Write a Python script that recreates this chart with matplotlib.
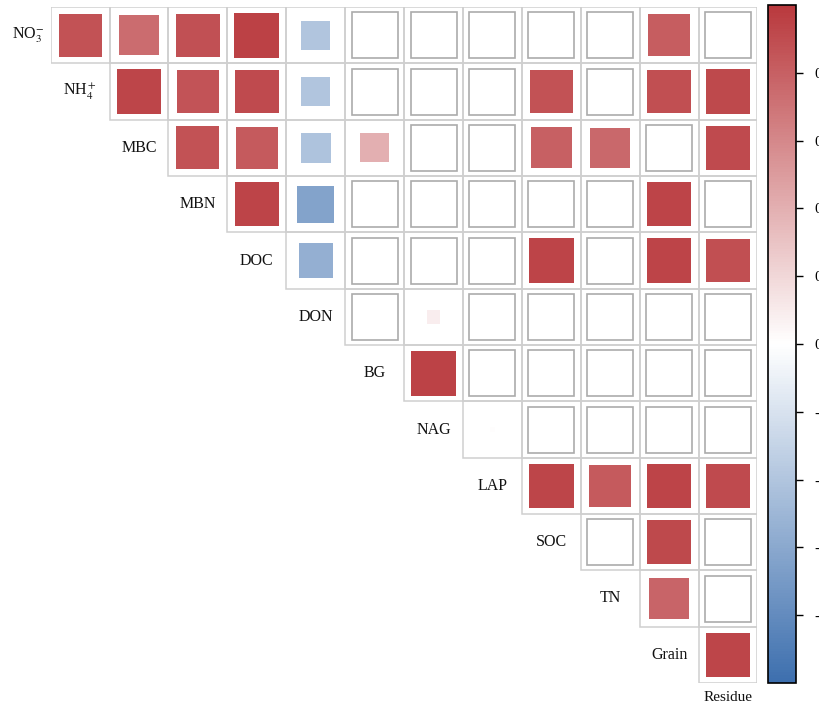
import numpy as np
import matplotlib
matplotlib.use("Agg")
import matplotlib.pyplot as plt
from matplotlib.patches import Rectangle
from matplotlib.colors import LinearSegmentedColormap, Normalize
from matplotlib.cm import ScalarMappable

plt.rcParams["font.family"] = ["Liberation Serif", "DejaVu Serif"]
plt.rcParams["mathtext.fontset"] = "stix"

# variable names along the diagonal
labels = [r"NO$_3^{\!-}$", r"NH$_4^+$", "MBC", "MBN", "DOC", "DON", "BG", "NAG",
          "LAP", "SOC", "TN", "Grain", "Residue"]

# correlation coefficients of the upper triangle, row by row (None = not significant)
r_no3 = [0.87, 0.74, 0.88, 0.96, -0.40, None, None, None, None, None, 0.82, None]
r_nh4 = [0.93, 0.86, 0.91, -0.40, None, None, None, 0.87, None, 0.89, 0.92]
r_mbc = [0.87, 0.83, -0.42, 0.40, None, None, 0.80, 0.76, None, 0.91]
r_mbn = [0.94, -0.64, None, None, None, None, None, 0.94, None]
r_doc = [-0.55, None, None, None, 0.94, None, 0.94, 0.89]
r_don = [None, 0.09, None, None, None, None, None]
r_bg = [0.95, None, None, None, None, None]
r_nag = [0.01, None, None, None, None]
r_lap = [0.93, 0.83, 0.94, 0.91]
r_soc = [None, 0.92, None]
r_tn = [0.78, None]
r_grain = [0.93]
rows = [r_no3, r_nh4, r_mbc, r_mbn, r_doc, r_don, r_bg, r_nag, r_lap, r_soc, r_tn, r_grain]

cbar_ticks = [-0.8, -0.6, -0.4, -0.2, 0, 0.2, 0.4, 0.6, 0.8]

cmap = LinearSegmentedColormap.from_list(
    "corr", ["#3d6fae", "#ffffff", "#b9393d"])
norm = Normalize(-1, 1)

W, H = 820, 704
fig = plt.figure(figsize=(W / 100, H / 100), dpi=100)

# grid box in pixels
gx0, gx1, gy0, gy1 = 50.7, 757.5, 7.0, 683.0
n = len(rows)
cw = (gx1 - gx0) / n
ch = (gy1 - gy0) / n
ax = fig.add_axes([gx0 / W, 1 - gy1 / H, (gx1 - gx0) / W, (gy1 - gy0) / H])
ax.set_xlim(-0.5, n - 0.5)
ax.set_ylim(n - 0.5, -0.5)
ax.axis("off")

full = 46.0  # side of a |r| = 1 square, pixels
for i, vals in enumerate(rows):
    for k, r in enumerate(vals):
        j = i + k
        # cell border
        ax.add_patch(Rectangle((j - 0.5, i - 0.5), 1, 1, fill=False,
                               edgecolor="#cfcfcf", lw=1.1, zorder=1))
        if r is None:
            w, h = full / cw, full / ch
            ax.add_patch(Rectangle((j - w / 2, i - h / 2), w, h, facecolor="white",
                                   edgecolor="#ababab", lw=1.2, zorder=2))
        else:
            s = full * np.sqrt(abs(r))
            w, h = s / cw, s / ch
            ax.add_patch(Rectangle((j - w / 2, i - h / 2), w, h,
                                   facecolor=cmap(norm(r)), edgecolor="none", zorder=2))

# diagonal labels
for k, lab in enumerate(labels):
    if k == n:
        ax.text(k - 1, n - 0.5 + 0.14, lab, ha="center", va="top",
                fontsize=11, color="#111111", clip_on=False)
    else:
        dx = 0.12 if k == 0 else 0.0
        ax.text(k - 1 + dx, k, lab, ha="center", va="center",
                fontsize=11.5, color="#111111", clip_on=False)

# colour bar
cax = fig.add_axes([768 / W, 1 - 683 / H, 28 / W, 678 / H])
sm = ScalarMappable(norm=norm, cmap=cmap)
cb = fig.colorbar(sm, cax=cax, ticks=cbar_ticks)
cb.outline.set_linewidth(1.2)
cb.ax.tick_params(direction="out", length=5, width=1, labelsize=11, pad=8)
cb.ax.set_yticklabels([f"{t:g}" for t in cbar_ticks])

fig.savefig("out.png", dpi=100)
